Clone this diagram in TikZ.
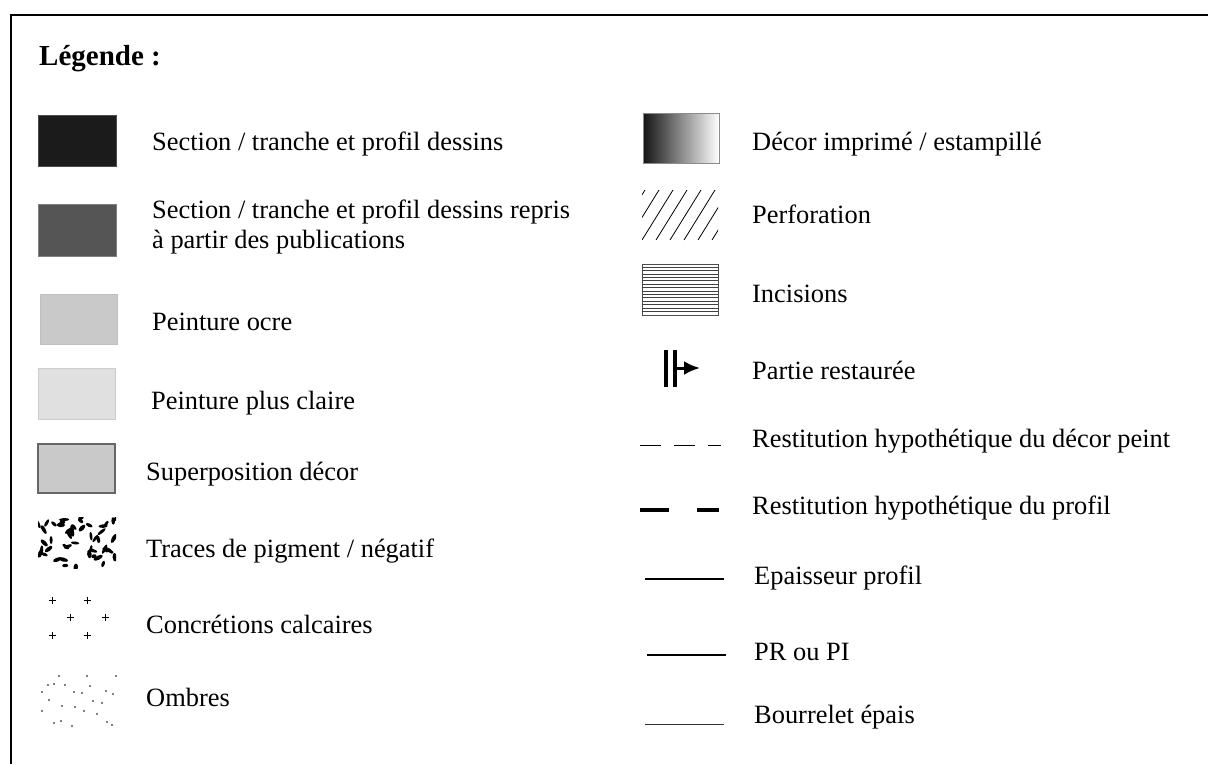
\documentclass[tikz,border=0pt]{standalone}
\usepackage{fontspec}
\setmainfont{Liberation Serif}
\usepackage{xcolor}
\usetikzlibrary{arrows.meta, positioning}

\definecolor{sectdark}{HTML}{1B1B1B}
\definecolor{sectpub}{HTML}{555555}
\definecolor{ocre}{HTML}{C9C9C9}
\definecolor{clair}{HTML}{E0E0E0}

\tikzset{
  swatch/.style={rectangle, inner sep=0pt, minimum width=78pt, minimum height=51pt},
  lbl/.style={anchor=base west, inner sep=0pt, font=\fontsize{26.4}{30}\selectfont},
  title/.style={anchor=base west, inner sep=0pt, font=\fontsize{29}{33}\selectfont\bfseries},
}

\begin{document}
\begin{tikzpicture}[x=1pt, y=-1pt]
\useasboundingbox (0,0) rectangle (1208,764);

% cadre
\draw[line width=2pt] (11,764) -- (11,14.5) -- (1208,14.5);
\node[title] (legende) at (39,65) {Légende :};

% colonne gauche
\node[swatch, fill=sectdark, draw=black!70, line width=0.6pt] (sect) at (77,140.5) {};
\node[lbl] (sectlbl) at (152,150) {Section / tranche et profil dessins};

\node[swatch, fill=sectpub, draw=black!50, line width=0.6pt, minimum height=52pt] (pub) at (77,230) {};
\node[lbl] (publbla) at (152,218) {Section / tranche et profil dessins repris};
\node[lbl] (publblb) at (152,248) {à partir des publications};

\node[swatch, fill=ocre, draw=black!25, line width=0.6pt, minimum width=77pt, minimum height=50pt] (ocre) at (78.5,319) {};
\node[lbl] (ocrelbl) at (152,330) {Peinture ocre};

\node[swatch, fill=clair, draw=black!20, line width=0.6pt, minimum width=77pt] (clair) at (76.5,393.5) {};
\node[lbl] (clairlbl) at (151,409) {Peinture plus claire};

\node[swatch, fill=ocre, draw=black!60, line width=2pt, minimum width=77pt, minimum height=49pt] (superp) at (76.5,468.5) {};
\node[lbl] (superplbl) at (146,480) {Superposition décor};

% traces de pigment
\begin{scope}
  \clip (38,517) rectangle (116,568);
  \pgfmathsetseed{7}
  \foreach \k in {1,...,50}{
    \pgfmathsetmacro{\bx}{38+78*rnd}
    \pgfmathsetmacro{\by}{517+51*rnd}
    \pgfmathsetmacro{\ba}{360*rnd}
    \pgfmathsetmacro{\bl}{2.5+2.8*rnd}
    \pgfmathsetmacro{\bw}{1.4+0.9*rnd}
    \fill[rotate around={\ba:(\bx,\by)}] (\bx,\by) ellipse [x radius=\bl, y radius=\bw];
  }
\end{scope}
\coordinate (traces) at (77,542.5);
\node[lbl] (traceslbl) at (146,557) {Traces de pigment / négatif};

% concretions
\foreach \px/\py in {52/600, 87/600, 70/617, 105/617, 52/635, 87/635}
  \draw[line width=0.6pt] (\px-3.5,\py) -- (\px+3.5,\py) (\px,\py-3.5) -- (\px,\py+3.5);
\coordinate (concr) at (78,617);
\node[lbl] (concrlbl) at (146,633) {Concrétions calcaires};

% ombres
\foreach \px/\py in {59/676, 87/676, 116/676, 48/685, 54/684, 65/685, 90/686, 42/692,
    74/692, 82/693, 106/691, 113/694, 49/700, 93/701, 102/703, 62/706, 75/707,
    42/711, 84/711, 97/714, 54/723, 61/721, 72/726, 107/722, 112/725}
  \fill (\px,\py) circle (0.9);
\coordinate (ombres) at (78,700);
\node[lbl] (ombreslbl) at (146,706) {Ombres};

% colonne droite
\node[swatch, left color=black!92, right color=white, draw=black!45, line width=0.8pt, minimum width=76pt, minimum height=50pt] (decor) at (681,138) {};
\node[lbl] (decorlbl) at (752,150) {Décor imprimé / estampillé};

\begin{scope}
  \clip (642,190) rectangle (718,240);
  \foreach \hx in {600,614,...,730}
    \draw[line width=0.8pt] (\hx,240) -- (\hx+31,190);
\end{scope}
\coordinate (perfo) at (680,215);
\node[lbl] (perfolbl) at (752,223) {Perforation};

\node[swatch, draw=black!70, line width=0.8pt, minimum width=76pt] (incis) at (680,289.5) {};
\foreach \hy in {1,...,14}
  \draw[line width=0.6pt, black!75] ([yshift=-\hy*3.4pt]incis.north west) -- ([yshift=-\hy*3.4pt]incis.north east);
\node[lbl] (incislbl) at (752,302) {Incisions};

\coordinate (restau) at (675,368);
\draw[line width=4pt] (665.5,350) -- (665.5,387) (675,350) -- (675,387);
\draw[line width=3pt, -{Latex[length=16pt, width=14pt]}] (restau) -- ++(25,0);
\node[lbl] (restaulbl) at (752,379) {Partie restaurée};

\coordinate (restdecor) at (640,445);
\draw[line width=1pt, dash pattern=on 21pt off 13pt] (restdecor) -- ++(81,0);
\node[lbl] (restdecorlbl) at (752,447) {Restitution hypothétique du décor peint};

\coordinate (restprof) at (640,510);
\draw[line width=4.5pt, dash pattern=on 29pt off 28pt] (restprof) -- ++(79,0);
\node[lbl] (restproflbl) at (752,514) {Restitution hypothétique du profil};

\coordinate (epais) at (645,579);
\draw[line width=2.5pt] (epais) -- ++(79,0);
\node[lbl] (epaislbl) at (754,584) {Epaisseur profil};

\coordinate (prpi) at (647,655);
\draw[line width=2pt] (prpi) -- ++(79,0);
\node[lbl] (prpilbl) at (754,660) {PR ou PI};

\coordinate (bourr) at (645,724);
\draw[line width=0.9pt, black!80] (bourr) -- ++(79,0);
\node[lbl] (bourrlbl) at (754,723) {Bourrelet épais};
\end{tikzpicture}
\end{document}
